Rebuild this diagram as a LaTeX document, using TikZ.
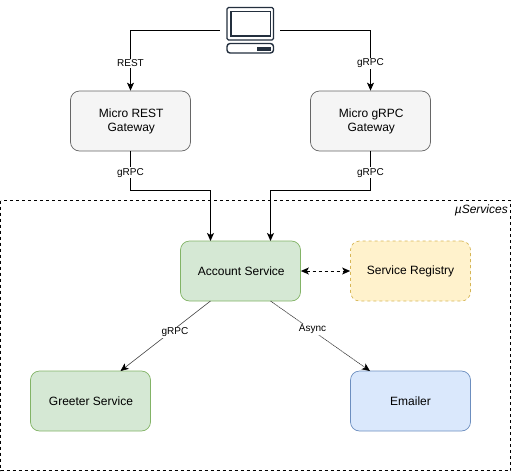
\documentclass[tikz,border=0pt]{standalone}
\usepackage{fontspec}
\setmainfont{Liberation Sans}
\usetikzlibrary{arrows.meta}
\definecolor{gwf}{HTML}{F5F5F5}\definecolor{gwd}{HTML}{666666}
\definecolor{grf}{HTML}{D5E8D4}\definecolor{grd}{HTML}{82B366}
\definecolor{yef}{HTML}{FFF2CC}\definecolor{yed}{HTML}{D6B656}
\definecolor{blf}{HTML}{DAE8FC}\definecolor{bld}{HTML}{6C8EBF}
\definecolor{pcc}{HTML}{232F3E}
\tikzset{x=1pt,y=-1pt,
 boxn/.style={rounded corners=9pt,minimum width=120pt,minimum height=60pt,inner sep=0pt,align=center,font=\fontsize{12}{14}\selectfont,line width=.7pt},
 gw/.style={boxn,draw=gwd,fill=gwf},
 gr/.style={boxn,draw=grd,fill=grf},
 ye/.style={boxn,draw=yed,fill=yef,dash pattern=on 3pt off 3pt},
 bl/.style={boxn,draw=bld,fill=blf},
 conn/.style={line width=1pt,-{Stealth[length=8pt,width=7pt,inset=2pt]}},
 thinc/.style={line width=.6pt,draw=black!75,-{Stealth[length=8pt,width=7pt,inset=2pt,black]}},
 lab/.style={fill=white,inner sep=1pt,font=\fontsize{10}{12}\selectfont}}
\begin{document}
\begin{tikzpicture}
\useasboundingbox (0,0) rectangle (511,471);
\draw[line width=.8pt,dash pattern=on 3pt off 3pt] (0.5,200.5) rectangle (510.5,470.5);
\node[font=\fontsize{12}{14}\selectfont,anchor=east,inner sep=0pt] (mu) at (508,210) {\textit{µServices}};
\node[minimum width=60pt,minimum height=50pt,inner sep=0pt] (pc) at (250,30) {};
\node[gw] (rest) at (130.5,121) {\hspace{1.5pt}Micro REST\\\hspace{1.5pt}Gateway};
\node[gw] (grpc) at (370.5,121) {\hspace{1.5pt}Micro gRPC\\\hspace{1.5pt}Gateway};
\node[gr] (acc) at (240.5,271) {\hspace{1.5pt}Account Service};
\node[ye] (reg) at (410.5,271) {Service Registry};
\node[gr] (gre) at (90.5,401) {\hspace{1pt}Greeter Service};
\node[bl] (ema) at (410.5,401) {Emailer};
% computer icon
\draw[pcc,line width=1.4pt,rounded corners=1.5pt,fill=white] (227,7.5) rectangle (273.5,40);
\draw[pcc,line width=1.4pt] (231,11.5) rectangle (270.5,36);
\draw[pcc,line width=1.4pt,rounded corners=3pt,fill=white] (227,43.5) rectangle (273.5,53);
\fill[pcc] (257,46.5) rectangle (271,50.5);
% connectors
\coordinate (pl) at (130.5,30);\coordinate (pr) at (370.5,30);
\draw[conn] (pc.west) -- (pl) -- (rest.north) node[lab,pos=.55] {REST};
\draw[conn] (pc.east) -- (pr) -- (grpc.north) node[lab,pos=.55] {gRPC};
\coordinate (a1) at (130.5,190);\coordinate (a2) at (210.5,190);\coordinate (a3) at (210.5,241);
\coordinate (b1) at (370.5,190);\coordinate (b2) at (270.5,190);\coordinate (b3) at (270.5,241);
\draw[conn] (rest.south) -- node[lab,pos=.55] {gRPC} (a1) -- (a2) -- (a3);
\draw[conn] (grpc.south) -- node[lab,pos=.55] {gRPC} (b1) -- (b2) -- (b3);
\draw[line width=1pt,dash pattern=on 3pt off 3pt,{Stealth[length=8pt,width=7pt,inset=2pt]}-{Stealth[length=8pt,width=7pt,inset=2pt]}] (acc.east) -- (reg.west);
\coordinate (c1) at (210.5,301);\coordinate (c2) at (120.5,371);
\coordinate (d1) at (270.5,301);\coordinate (d2) at (370,371);
\draw[thinc] (c1) -- node[lab,pos=.43,xshift=3.2pt,yshift=-1pt] {gRPC} (c2);
\draw[thinc,dash pattern=on 1.5pt off .5pt] (d1) -- node[lab,pos=.4,xshift=2.2pt,yshift=-.3pt] {Async} (d2);
\end{tikzpicture}
\end{document}
